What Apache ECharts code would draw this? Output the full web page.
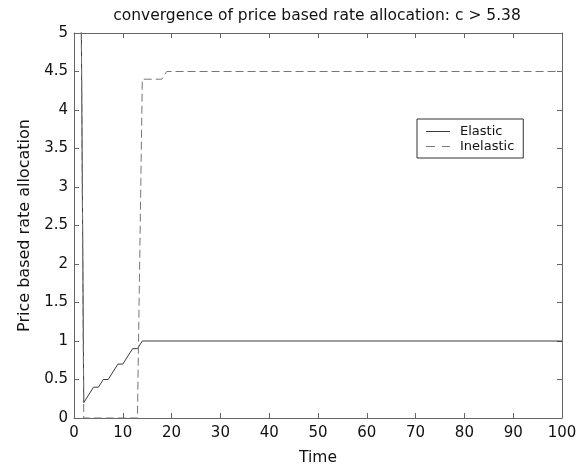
<!DOCTYPE html>
<html>
<head>
<meta charset="utf-8">
<script src="https://cdn.jsdelivr.net/npm/echarts@6/dist/echarts.min.js"></script>
<style>html,body{margin:0;padding:0;background:#fff;}#c{width:576px;height:466px;}</style>
</head>
<body>
<div id="c"></div>
<script>
const titleText = 'convergence of price based rate allocation: c > 5.38';
const xName = 'Time';
const yName = 'Price based rate allocation';
const elasticTime  = [1, 2, 4, 5, 6, 7, 9, 10, 12, 13, 14, 100];
const elasticValue = [10, 0.2, 0.4, 0.4, 0.5, 0.5, 0.7, 0.7, 0.9, 0.9, 1.0, 1.0];
const inelasticTime  = [1, 2, 13, 14, 18, 19, 100];
const inelasticValue = [10, 0, 0, 4.4, 4.4, 4.5, 4.5];
const seriesNames = ['Elastic', 'Inelastic'];

const pair = (t, v) => t.map((x, i) => [x, v[i]]);
const axisColor = '#666';
const font = 'DejaVu Sans, sans-serif';
const solidIcon = 'path://M0,0H24V1H0Z';
const dashIcon = 'path://M0,0H9V1H0Z M16,0H24V1H16Z';

const chart = echarts.init(document.getElementById('c'), null, {renderer: 'canvas'});
chart.setOption({
  animation: false,
  backgroundColor: '#fff',
  title: {
    text: titleText, left: 312, top: 3, textAlign: 'center',
    textStyle: {fontFamily: font, fontSize: 15.5, fontWeight: 'normal', color: '#111'}
  },
  grid: {left: 74, right: 14, top: 33, bottom: 48, outerBoundsMode: 'none', containLabel: false},
  legend: {
    orient: 'vertical', left: 417, top: 119,
    data: [{name: seriesNames[0], icon: solidIcon}, {name: seriesNames[1], icon: dashIcon}],
    itemWidth: 24, itemHeight: 10, itemGap: 0,
    padding: [5, 9, 4, 9],
    borderColor: '#333', borderWidth: 1, backgroundColor: '#fff',
    textStyle: {fontFamily: font, fontSize: 13, color: '#111', lineHeight: 15, padding: [0, 0, 0, 5]}
  },
  xAxis: [{
    type: 'value', min: 0, max: 100, interval: 10,
    name: xName, nameLocation: 'middle', nameGap: 32,
    nameTextStyle: {fontFamily: font, fontSize: 15.5, color: '#111'},
    axisLine: {show: true, lineStyle: {color: axisColor, width: 1}},
    axisTick: {show: true, inside: true, length: 5, lineStyle: {color: axisColor}},
    axisLabel: {fontFamily: font, fontSize: 15, color: '#111', margin: 8},
    splitLine: {show: false}
  }, {
    type: 'value', min: 0, max: 100, interval: 10, position: 'top',
    axisLine: {show: true, onZero: false, lineStyle: {color: axisColor, width: 1}},
    axisTick: {show: true, inside: true, length: 5, lineStyle: {color: axisColor}},
    axisLabel: {show: false}, splitLine: {show: false}
  }],
  yAxis: [{
    type: 'value', min: 0, max: 5, interval: 0.5,
    name: yName, nameLocation: 'middle', nameGap: 41,
    nameTextStyle: {fontFamily: font, fontSize: 16, color: '#111'},
    axisLine: {show: true, lineStyle: {color: axisColor, width: 1}},
    axisTick: {show: true, inside: true, length: 5, lineStyle: {color: axisColor}},
    axisLabel: {fontFamily: font, fontSize: 15, color: '#111', margin: 6},
    splitLine: {show: false}
  }, {
    type: 'value', min: 0, max: 5, interval: 0.5, position: 'right',
    axisLine: {show: true, onZero: false, lineStyle: {color: axisColor, width: 1}},
    axisTick: {show: true, inside: true, length: 5, lineStyle: {color: axisColor}},
    axisLabel: {show: false}, splitLine: {show: false}
  }],
  series: [{
    name: seriesNames[0], type: 'line', data: pair(elasticTime, elasticValue),
    symbol: 'none', clip: true,
    lineStyle: {color: '#3a3a3a', width: 1, type: 'solid'},
    itemStyle: {color: '#3a3a3a'}
  }, {
    name: seriesNames[1], type: 'line', data: pair(inelasticTime, inelasticValue),
    symbol: 'none', clip: true,
    lineStyle: {color: '#777', width: 1, type: [8, 4]},
    itemStyle: {color: '#777'}
  }]
});
</script>
</body>
</html>
